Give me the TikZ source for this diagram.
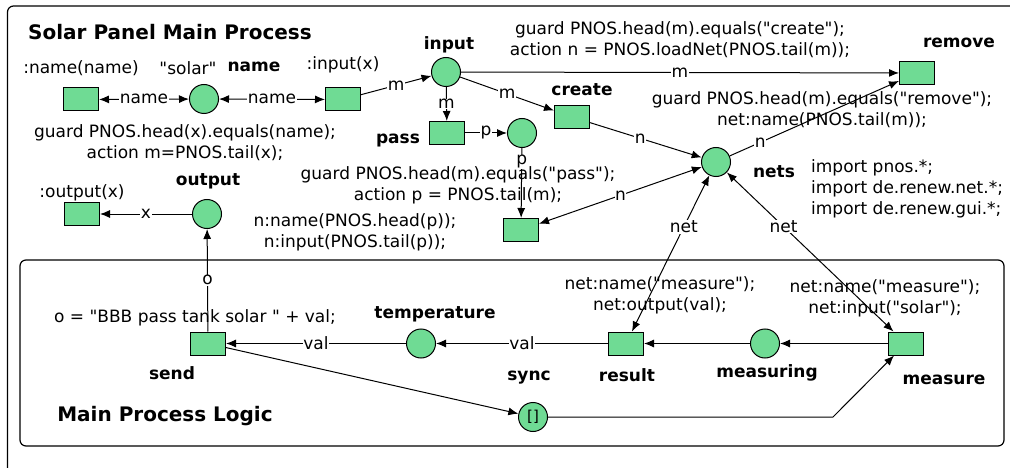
\documentclass[tikz,border=0pt]{standalone}
\usepackage{fontspec}
\setmainfont{DejaVu Sans}[Ligatures=TeXOff]
\usetikzlibrary{arrows.meta}
\definecolor{pgreen}{HTML}{6FDB94}
\newcommand{\fRg}{\fontsize{17}{21}\selectfont}
\newcommand{\fBd}{\fontsize{17}{21}\selectfont\bfseries}
\newcommand{\fTtl}{\fontsize{20}{24}\selectfont\bfseries}
\newcommand{\fSm}{\fontsize{15}{18}\selectfont}
\begin{document}
\begin{tikzpicture}[x=1pt,y=-1pt,
 trans/.style={draw, fill=pgreen, minimum width=35pt, minimum height=23pt, inner sep=0pt, line width=1pt},
 place/.style={circle, draw, fill=pgreen, minimum size=29pt, inner sep=0pt, line width=1pt},
 arr/.style={line width=1pt, -{Latex[length=10pt,width=8pt]}},
 darr/.style={line width=1pt, {Latex[length=10pt,width=8pt]}-{Latex[length=10pt,width=8pt]}},
 lab/.style={fill=white, inner sep=0.5pt, font=\fRg},
 txt/.style={font=\fRg, align=center, inner sep=0pt},
 bl/.style={font=\fBd, inner sep=0pt},
 frame/.style={line width=1.2pt, rounded corners=6pt}]
\clip (0,0) rectangle (1010,468);
% frames
\draw[frame] (7.5,6) rectangle (1040,500);
\draw[frame] (20,260) rectangle (1004,446);
% texts
\node[bl, font=\fTtl] (title) at (170,32) {Solar Panel Main Process};
\node[txt] (tname) at (81,68) {:name(name)};
\node[txt] (tsolar) at (188,68) {"solar"};
\node[bl] (lname) at (254,67) {name};
\node[txt] (tinput) at (343,65) {:input(x)};
\node[bl] (linput) at (449,45) {input};
\node[txt] (gcreate) at (680,40) {guard PNOS.head(m).equals("create");\\action n = PNOS.loadNet(PNOS.tail(m));};
\node[bl] (lcreate) at (582,90) {create};
\node[bl] (lremove) at (959,43) {remove};
\node[txt] (gremove) at (822,110) {guard PNOS.head(m).equals("remove");\\net:name(PNOS.tail(m));};
\node[bl] (lnets) at (774,172) {nets};
\node[txt, align=left, anchor=west] (imports) at (811,189) {import pnos.*;\\import de.renew.net.*;\\import de.renew.gui.*;};
\node[bl] (lpass) at (398,141) {pass};
\node[txt] (gpass) at (458,185) {guard PNOS.head(m).equals("pass");\\action p = PNOS.tail(m);};
\node[txt] (npass) at (355,232) {n:name(PNOS.head(p));\\n:input(PNOS.tail(p));};
\node[txt] (gname) at (185,143) {guard PNOS.head(x).equals(name);\\action m=PNOS.tail(x);};
\node[bl] (loutput) at (208,181) {output};
\node[txt] (toutput) at (82,193) {:output(x)};
\node[txt] (osend) at (195,318) {o = "BBB pass tank solar " + val;};
\node[bl] (ltemp) at (435,314) {temperature};
\node[bl] (lsend) at (172,373) {send};
\node[bl, font=\fTtl] (lmain) at (165,416) {Main Process Logic};
\node[bl] (lresult) at (627,375) {result};
\node[bl] (lsync) at (529,378) {sync};
\node[bl] (lmeasuring) at (767,373) {measuring};
\node[bl] (lmeasure) at (944,380) {measure};
\node[txt] (nresult) at (660,295) {net:name("measure");\\net:output(val);};
\node[txt] (nmeasure) at (885,298) {net:name("measure");\\net:input("solar");};
% places and transitions
\node[trans] (T1) at (81,99.5) {};
\node[place] (solar) at (204,99) {};
\node[trans] (T2) at (343,99.5) {};
\node[place] (input) at (446,72) {};
\node[trans] (remove) at (917,73) {};
\node[trans] (create) at (572,117) {};
\node[place] (nets) at (716,162) {};
\node[trans] (pass) at (447,133) {};
\node[place] (pp) at (522,133) {};
\node[trans] (pass2) at (521,230) {};
\node[place] (output) at (207,214) {};
\node[trans] (outT) at (82,214) {};
\node[trans] (send) at (208,343.5) {};
\node[place] (temp) at (421,343.5) {};
\node[trans] (result) at (626,343.5) {};
\node[place] (measuring) at (765,343.5) {};
\node[trans] (measure) at (906,343.5) {};
\node[place, font=\fSm] (sync) at (533,417) {[]};
\coordinate (bend) at (833,417);
% arcs
\draw[darr] (T1) -- node[lab]{name} (solar);
\draw[darr] (solar) -- node[lab]{name} (T2);
\draw[arr] (T2) -- node[lab]{m} (input);
\draw[arr] (input) -- node[lab]{m} (remove);
\draw[arr] (input) -- node[lab]{m} (create);
\draw[arr] (input) -- node[lab]{m} (pass);
\draw[arr] (pass) -- node[lab]{p} (pp);
\draw[arr] (pp) -- node[lab,pos=0.2]{p} (pass2);
\draw[arr] (create) -- node[lab,pos=0.45]{n} (nets);
\draw[arr] (nets) -- node[lab,pos=0.18]{n} (remove);
\draw[darr] (nets) -- node[lab]{n} (pass2);
\draw[darr] (nets) -- node[lab,pos=0.33]{net} (result);
\draw[darr] (nets) -- node[lab,pos=0.34]{net} (measure);
\draw[arr] (output) -- node[lab]{x} (outT);
\draw[arr] (send) -- node[lab]{o} (output);
\draw[arr] (temp) -- node[lab]{val} (send);
\draw[arr] (result) -- node[lab]{val} (temp);
\draw[arr] (measuring) -- (result);
\draw[arr] (measure) -- (measuring);
\draw[arr] (send) -- (sync);
\draw[arr] (sync) -- (bend) -- (measure);
\end{tikzpicture}
\end{document}
